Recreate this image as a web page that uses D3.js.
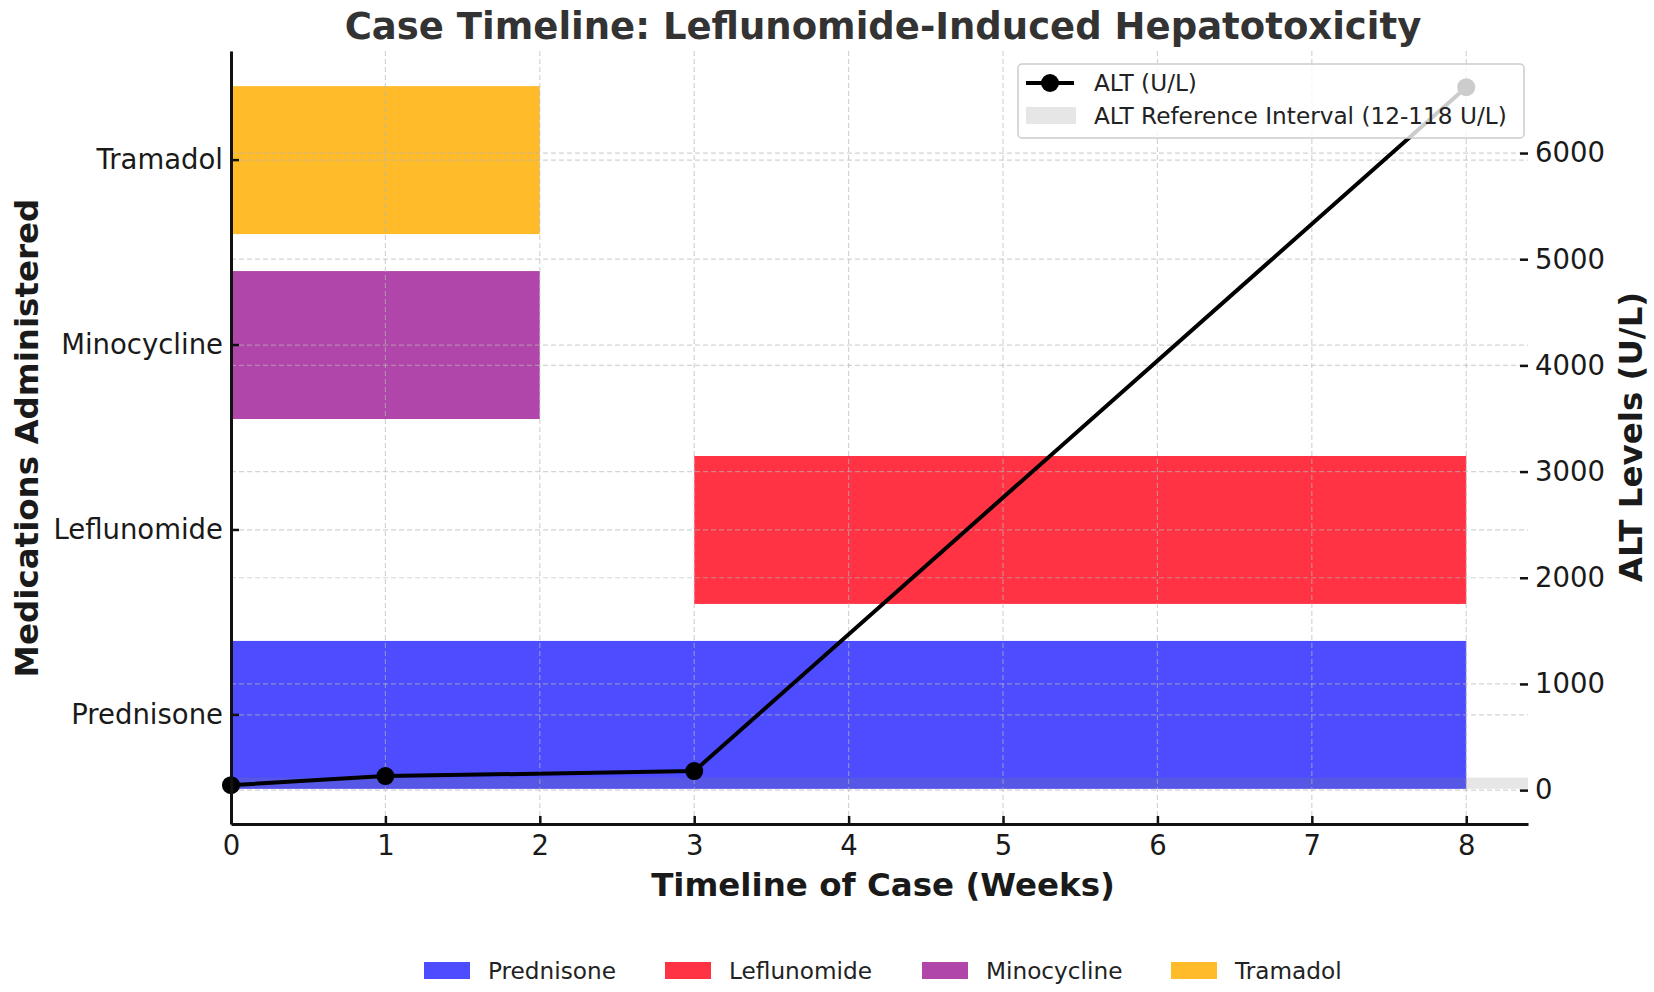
<!DOCTYPE html>
<html>
<head>
<meta charset="utf-8">
<script src="https://cdn.jsdelivr.net/npm/d3@7"></script>
<style>
  body { margin: 0; background: #fff; }
  text { font-family: 'DejaVu Sans', sans-serif; }
</style>
</head>
<body>
<div id="chart"></div>
<script>
// medications, top to bottom on the chart
let medications = ['Tramadol', 'Minocycline', 'Leflunomide', 'Prednisone']
let medStart = [0, 0, 3, 0]
let medEnd = [2, 2, 8, 8]
let medColors = ['#ffbb2a', '#b046a9', '#ff3344', '#4d4dff']

// ALT measurements
let weeks = [0, 1, 3, 8]
let alt = [47, 132, 179, 6620]
let refLow = 12
let refHigh = 118

let weekTicks = [0, 1, 2, 3, 4, 5, 6, 7, 8]
let altTicks = [0, 1000, 2000, 3000, 4000, 5000, 6000]

// bottom legend order
let legendOrder = ['Prednisone', 'Leflunomide', 'Minocycline', 'Tramadol']

let width = 1654
let height = 992
let margin = { top: 51, left: 231, right: 126, bottom: 168 }
let innerW = width - margin.left - margin.right
let innerH = height - margin.top - margin.bottom

let svg = d3
  .select('#chart')
  .append('svg')
  .attr('width', width)
  .attr('height', height)

let g = svg.append('g').attr('transform', `translate(${margin.left},${margin.top})`)

let x = d3.scaleLinear().domain([0, 8.4]).range([0, innerW])
let yMed = d3
  .scaleBand()
  .domain(medications)
  .range([0, innerH])
  .paddingInner(0.2)
  .paddingOuter(0.19)
let yAlt = d3.scaleLinear().domain([-319, 6961]).range([innerH, 0])

let color = d3.scaleOrdinal().domain(medications).range(medColors)

// bars
g.selectAll('.bar')
  .data(medications)
  .enter()
  .append('rect')
  .attr('class', 'bar')
  .attr('x', (d, i) => x(medStart[i]))
  .attr('width', (d, i) => x(medEnd[i]) - x(medStart[i]))
  .attr('y', d => yMed(d))
  .attr('height', yMed.bandwidth())
  .attr('fill', d => color(d))

// grid lines (drawn over the bars, light and dashed)
let grid = g.append('g').attr('stroke', '#b8b8b8').attr('stroke-opacity', 0.6)
  .attr('stroke-dasharray', '5,3').attr('stroke-width', 1.2)
grid.selectAll('.vx')
  .data(weekTicks)
  .enter()
  .append('line')
  .attr('x1', d => x(d))
  .attr('x2', d => x(d))
  .attr('y1', 0)
  .attr('y2', innerH)
grid.selectAll('.hm')
  .data(medications)
  .enter()
  .append('line')
  .attr('x1', 0)
  .attr('x2', innerW)
  .attr('y1', d => yMed(d) + yMed.bandwidth() / 2)
  .attr('y2', d => yMed(d) + yMed.bandwidth() / 2)
grid.selectAll('.ha')
  .data(altTicks)
  .enter()
  .append('line')
  .attr('x1', 0)
  .attr('x2', innerW)
  .attr('y1', d => yAlt(d))
  .attr('y2', d => yAlt(d))

// reference interval band
g.append('rect')
  .attr('x', 0)
  .attr('width', innerW)
  .attr('y', yAlt(refHigh))
  .attr('height', yAlt(refLow) - yAlt(refHigh))
  .attr('fill', 'grey')
  .attr('opacity', 0.2)

// ALT line
let line = d3
  .line()
  .x((d, i) => x(weeks[i]))
  .y(d => yAlt(d))

g.append('path')
  .datum(alt)
  .attr('d', line)
  .attr('fill', 'none')
  .attr('stroke', 'black')
  .attr('stroke-width', 4)
  .attr('stroke-linejoin', 'round')

g.selectAll('.pt')
  .data(alt)
  .enter()
  .append('circle')
  .attr('cx', (d, i) => x(weeks[i]))
  .attr('cy', d => yAlt(d))
  .attr('r', 9)
  .attr('fill', 'black')

// axes
let xAxis = g
  .append('g')
  .attr('transform', `translate(0,${innerH})`)
  .call(d3.axisBottom(x).tickValues(weekTicks).tickFormat(d3.format('d'))
    .tickSizeInner(-8).tickSizeOuter(0).tickPadding(11))
let leftAxis = g
  .append('g')
  .call(d3.axisLeft(yMed).tickSizeInner(-8).tickSizeOuter(0).tickPadding(8))
let rightAxis = g
  .append('g')
  .attr('transform', `translate(${innerW},0)`)
  .call(d3.axisRight(yAlt).tickValues(altTicks).tickFormat(d3.format('d'))
    .tickSizeInner(-8).tickSizeOuter(0).tickPadding(7))

;[xAxis, leftAxis, rightAxis].forEach(a => {
  a.selectAll('text').attr('font-size', 27.5).attr('fill', '#1a1a1a')
    .attr('font-family', 'DejaVu Sans')
  a.selectAll('.tick line').attr('stroke', '#111').attr('stroke-width', 2.5)
})
xAxis.select('.domain').attr('stroke', '#111').attr('stroke-width', 3)
leftAxis.select('.domain').attr('stroke', '#111').attr('stroke-width', 3)
rightAxis.select('.domain').remove()

// titles
svg.append('text')
  .attr('x', 883)
  .attr('y', 39)
  .attr('text-anchor', 'middle')
  .attr('font-size', 37)
  .attr('font-weight', 'bold')
  .attr('fill', '#333')
  .text('Case Timeline: Leflunomide-Induced Hepatotoxicity')

svg.append('text')
  .attr('x', 883)
  .attr('y', 896)
  .attr('text-anchor', 'middle')
  .attr('font-size', 32.5)
  .attr('font-weight', 'bold')
  .attr('fill', '#1a1a1a')
  .text('Timeline of Case (Weeks)')

svg.append('text')
  .attr('transform', 'translate(38,438) rotate(-90)')
  .attr('text-anchor', 'middle')
  .attr('font-size', 32.5)
  .attr('font-weight', 'bold')
  .attr('fill', '#1a1a1a')
  .text('Medications Administered')

svg.append('text')
  .attr('transform', 'translate(1642,437) rotate(-90)')
  .attr('text-anchor', 'middle')
  .attr('font-size', 32.5)
  .attr('font-weight', 'bold')
  .attr('fill', '#1a1a1a')
  .text('ALT Levels (U/L)')

// upper right legend
let lg = svg.append('g').attr('transform', 'translate(1018,64)')
lg.append('rect')
  .attr('width', 506)
  .attr('height', 74)
  .attr('rx', 4)
  .attr('fill', 'white')
  .attr('fill-opacity', 0.8)
  .attr('stroke', '#cccccc')
  .attr('stroke-width', 1.5)
lg.append('line')
  .attr('x1', 8).attr('x2', 56).attr('y1', 19).attr('y2', 19)
  .attr('stroke', 'black').attr('stroke-width', 4)
lg.append('circle').attr('cx', 32).attr('cy', 19).attr('r', 9).attr('fill', 'black')
lg.append('text').attr('x', 76).attr('y', 27).attr('font-size', 23.2).attr('fill', '#222')
  .text('ALT (U/L)')
lg.append('rect').attr('x', 8).attr('y', 43).attr('width', 50).attr('height', 17)
  .attr('fill', 'grey').attr('opacity', 0.2)
lg.append('text').attr('x', 76).attr('y', 60).attr('font-size', 23.2).attr('fill', '#222')
  .text('ALT Reference Interval (12-118 U/L)')

// bottom legend
let swatchX = [424, 665, 922, 1171]
let bl = svg.append('g')
bl.selectAll('.sw')
  .data(legendOrder)
  .enter()
  .append('rect')
  .attr('x', (d, i) => swatchX[i])
  .attr('y', 962)
  .attr('width', 46)
  .attr('height', 17)
  .attr('fill', d => color(d))
bl.selectAll('.lt')
  .data(legendOrder)
  .enter()
  .append('text')
  .attr('x', (d, i) => swatchX[i] + 64)
  .attr('y', 979)
  .attr('font-size', 23.2)
  .attr('fill', '#222')
  .text(d => d)
</script>
</body>
</html>
